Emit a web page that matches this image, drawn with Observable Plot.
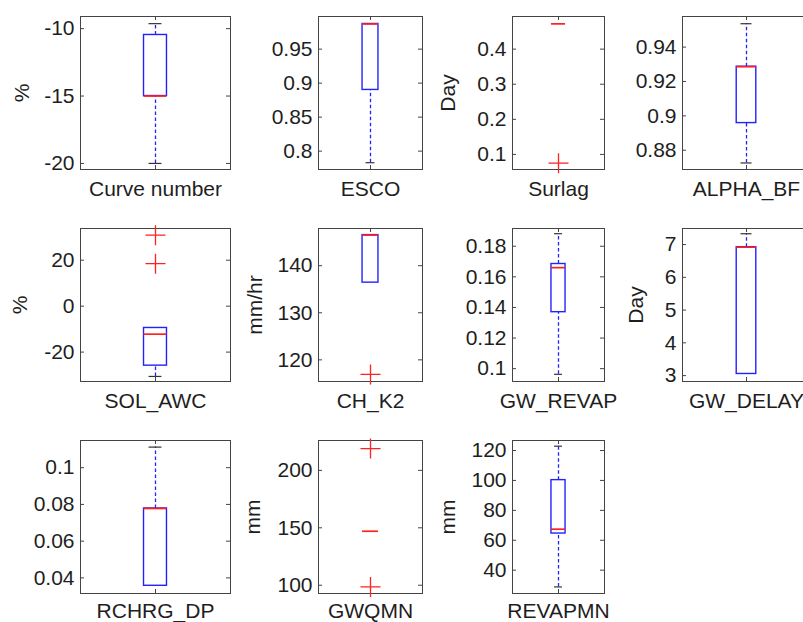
<!DOCTYPE html>
<html><head><meta charset="utf-8">
<script src="https://cdn.jsdelivr.net/npm/d3@7"></script>
<script src="https://cdn.jsdelivr.net/npm/@observablehq/plot@0.6"></script>
<style>
body{margin:0;background:#fff}
#chart{position:relative;width:803px;height:622px;overflow:hidden;background:#fff}
#chart svg{position:absolute}
</style></head><body><div id="chart"></div>
<script>
// ---- data ----
const names = ["Curve number","ESCO","Surlag","ALPHA_BF","SOL_AWC","CH_K2","GW_REVAP","GW_DELAY","RCHRG_DP","GWQMN","REVAPMN"];
const units = ["%","","Day","","%","mm/hr","","Day","","mm","mm"];
const whiskerLow  = [-20,   0.783, 0.472, 0.8726, -30.6, 136.4, 0.0963, 3.05, 0.0357, 147, 28.8];
const q1          = [-15,   0.890, 0.472, 0.8958, -25.9, 136.4, 0.1369, 3.05, 0.0357, 147, 64.5];
const median      = [-15,   0.987, 0.472, 0.9286, -12.2, 146.5, 0.1660, 6.92, 0.0778, 147, 67.4];
const q3          = [-10.47,0.987, 0.472, 0.9286, -9.5,  146.5, 0.1684, 6.92, 0.0778, 147, 100.2];
const whiskerHigh = [-9.63, 0.987, 0.472, 0.9536, -9.5,  146.5, 0.1882, 7.33, 0.1112, 147, 122.9];
const outliers = [[],[],[0.075],[],[30.9,18.5],[116.9],[],[],[],[219,98.5],[]];
const yTicks = [
  [-20,-15,-10],[0.8,0.85,0.9,0.95],[0.1,0.2,0.3,0.4],[0.88,0.9,0.92,0.94],
  [-20,0,20],[120,130,140],[0.1,0.12,0.14,0.16,0.18],[3,4,5,6,7],
  [0.04,0.06,0.08,0.1],[100,150,200],[40,60,80,100,120]
];
const yLimits = [
  [-20.45,-9.1],[0.773,0.998],[0.057,0.493],[0.8688,0.9578],
  [-32.8,33.8],[115.4,147.9],[0.0916,0.1916],[2.82,7.49],
  [0.0315,0.1148],[92.8,226],[24.4,126.7]
];

// ---- layout ----
const colLeft = [80, 318, 512, 682];
const colWidth = [150, 104, 92, 128];
const rowTop = [16, 228, 440];
const rowLabelDy = [20, 19.5, 17.5];
const frameH = 153;
const yLabelDx = [-58.5, 0, -64, 0, -60, -63, 0, -46, 0, -65, -64];
const mL = 80, mR = 6, mT = 6, mB = 40;
const boxHalf = 0.0765, capHalf = 0.043;
const frameColor = "#444", textColor = "#1e1e1e";
const blue = "#2222ff", red = "#ff2020";

const chart = document.getElementById("chart");
names.forEach((name, i) => {
  const r = Math.floor(i / 4), c = i % 4;
  const W = colWidth[c];
  const s = {lo: whiskerLow[i], q1: q1[i], med: median[i], q3: q3[i], hi: whiskerHigh[i]};
  const marks = [
    Plot.frame({stroke: frameColor, strokeWidth: 1}),
    Plot.tickY(yTicks[i], {y: d => d, insetRight: W - 4, stroke: frameColor}),
    Plot.tickY(yTicks[i], {y: d => d, insetLeft: W - 4, stroke: frameColor}),
    Plot.tickX([1], {x: d => d, insetBottom: frameH - 4, stroke: frameColor}),
    Plot.tickX([1], {x: d => d, insetTop: frameH - 4, stroke: frameColor}),
    Plot.axisY(yTicks[i], {anchor: "left", tickSize: 0, tickPadding: 6, tickFormat: d => String(d), label: null, fill: textColor}),
    Plot.text([name], {x: 1, frameAnchor: "bottom", dy: rowLabelDy[r], lineAnchor: "middle", text: d => d, fill: textColor}),
    // whiskers
    Plot.ruleX([s].filter(d => d.hi > d.q3), {x: 1, y1: "q3", y2: "hi", stroke: blue, strokeWidth: 1.3, strokeDasharray: "3.5,2.5"}),
    Plot.ruleX([s].filter(d => d.lo < d.q1), {x: 1, y1: "lo", y2: "q1", stroke: blue, strokeWidth: 1.3, strokeDasharray: "3.5,2.5"}),
    Plot.ruleY([s].filter(d => d.hi > d.q3), {y: "hi", x1: 1 - capHalf, x2: 1 + capHalf, stroke: "#333", strokeWidth: 1.2}),
    Plot.ruleY([s].filter(d => d.lo < d.q1), {y: "lo", x1: 1 - capHalf, x2: 1 + capHalf, stroke: "#333", strokeWidth: 1.2}),
    // box
    Plot.rect([s].filter(d => d.q3 > d.q1), {x1: 1 - boxHalf, x2: 1 + boxHalf, y1: "q1", y2: "q3", stroke: blue, fill: "none", strokeWidth: 1.4}),
    Plot.ruleY([s], {y: "med", x1: 1 - boxHalf, x2: 1 + boxHalf, stroke: red, strokeWidth: 1.7}),
    Plot.dot(outliers[i], {x: 1, y: d => d, symbol: "plus", r: 6.5, stroke: red, strokeWidth: 1.3})
  ];
  if (units[i]) {
    marks.push(Plot.text([units[i]], {frameAnchor: "left", dx: yLabelDx[i], rotate: -90, textAnchor: "middle", lineAnchor: "middle", text: d => d, fill: textColor}));
  }
  const svg = Plot.plot({
    width: mL + W + mR,
    height: mT + frameH + mB,
    marginLeft: mL, marginRight: mR, marginTop: mT, marginBottom: mB,
    x: {domain: [0.5, 1.5], axis: null},
    y: {domain: yLimits[i], axis: null},
    style: {background: "transparent", overflow: "visible", fontFamily: "'Liberation Sans', Arial, sans-serif", fontSize: "21px", maxWidth: "none"},
    marks
  });
  svg.style.left = (colLeft[c] - mL) + "px";
  svg.style.top = (rowTop[r] - mT) + "px";
  chart.appendChild(svg);
});
</script></body></html>
